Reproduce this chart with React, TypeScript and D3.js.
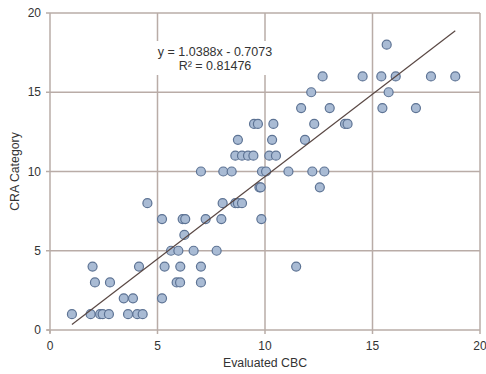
import React from "react";
import * as d3 from "d3";

const xs: number[] = [
  1.02, 1.89, 2.33, 2.45, 2.74, 3.63, 4.06, 4.31,
  3.43, 3.86, 5.21,
  2.09, 2.79, 5.89, 6.05, 7.02,
  1.98, 4.14, 5.33, 6.06, 7.02, 11.45,
  5.63, 5.97, 6.68, 7.75,
  6.25,
  5.21, 6.17, 6.29, 7.24, 7.97, 9.83,
  4.53, 8.03, 8.62, 8.74, 8.93,
  9.74, 9.8, 12.55,
  7.02, 8.06, 8.45, 9.86, 10.05, 11.09, 12.2, 12.76,
  8.62, 8.93, 9.21, 9.46, 10.2, 10.51,
  8.74, 10.33, 11.86,
  9.49, 9.67, 10.39, 12.29, 13.72, 13.84,
  11.68, 13.01, 15.46, 17.02,
  12.15, 15.75,
  12.68, 14.54, 15.41, 16.08, 17.72, 18.85,
  15.66,
];
const ys: number[] = [
  1, 1, 1, 1, 1, 1, 1, 1,
  2, 2, 2,
  3, 3, 3, 3, 3,
  4, 4, 4, 4, 4, 4,
  5, 5, 5, 5,
  6,
  7, 7, 7, 7, 7, 7,
  8, 8, 8, 8, 8,
  9, 9, 9,
  10, 10, 10, 10, 10, 10, 10, 10,
  11, 11, 11, 11, 11, 11,
  12, 12, 12,
  13, 13, 13, 13, 13, 13,
  14, 14, 14, 14,
  15, 15,
  16, 16, 16, 16, 16, 16,
  18,
];
const ticks: number[] = [0, 5, 10, 15, 20];
const slope = 1.0388;
const intercept = -0.7073;
const eqLines: string[] = ["y = 1.0388x - 0.7073", "R\u00B2 = 0.81476"];

const GRID = "#b9aca7";
const TEXT = "#333333";
const FONT = "'Liberation Sans', Arial, Helvetica, sans-serif";

export default function App() {
  const x = d3.scaleLinear().domain([0, 20]).range([50, 480]);
  const y = d3.scaleLinear().domain([0, 20]).range([330, 13]);
  const xMin = d3.min(xs) as number;
  const xMax = d3.max(xs) as number;
  const trend = d3.line<number>()
    .x((d) => x(d))
    .y((d) => y(slope * d + intercept))([xMin, xMax]);

  return (
    <svg
      width={486}
      height={374}
      style={{ position: "absolute", left: 0, top: 0, background: "#fff" }}
      fontFamily={FONT}
    >
      <rect x={0} y={0} width={486} height={374} fill="#fff" />
      {ticks.filter((t) => t > 0).map((t) => (
        <line key={"gx" + t} x1={x(t)} x2={x(t)} y1={y(0)} y2={y(20)} stroke={GRID} strokeWidth={1.5} />
      ))}
      {ticks.filter((t) => t > 0).map((t) => (
        <line key={"gy" + t} x1={x(0)} x2={x(20)} y1={y(t)} y2={y(t)} stroke={GRID} strokeWidth={1.5} />
      ))}
      <line x1={x(0)} x2={x(0)} y1={y(0) + 3} y2={y(20)} stroke={GRID} strokeWidth={1.5} />
      <line x1={x(0) - 3} x2={x(20)} y1={y(0)} y2={y(0)} stroke={GRID} strokeWidth={1.5} />
      {ticks.map((t) => (
        <line key={"tx" + t} x1={x(t)} x2={x(t)} y1={y(0)} y2={y(0) + 4} stroke={GRID} strokeWidth={1.5} />
      ))}
      {ticks.map((t) => (
        <line key={"ty" + t} x1={x(0) - 4} x2={x(0)} y1={y(t)} y2={y(t)} stroke={GRID} strokeWidth={1.5} />
      ))}
      {ticks.map((t) => (
        <text key={"lx" + t} x={x(t)} y={y(0) + 20} textAnchor="middle" fontSize={12} fill={TEXT}>{t}</text>
      ))}
      {ticks.map((t) => (
        <text key={"ly" + t} x={x(0) - 9} y={y(t) + 4} textAnchor="end" fontSize={12} fill={TEXT}>{t}</text>
      ))}
      <rect x={152} y={41} width={126} height={34} fill="#fff" />
      {xs.map((v, i) => (
        <circle key={"p" + i} cx={x(v)} cy={y(ys[i])} r={4.5} fill="#a9bbd4" stroke="#5d7394" strokeWidth={1.2} />
      ))}
      <path d={trend || ""} fill="none" stroke="#5a4844" strokeWidth={1.2} />
      {eqLines.map((s, i) => (
        <text key={"eq" + i} x={215} y={56 + i * 14} textAnchor="middle" fontSize={12.5} fill={TEXT}>{s}</text>
      ))}
      <text x={265} y={367} textAnchor="middle" fontSize={12.3} fill={TEXT}>Evaluated CBC</text>
      <text transform="translate(19,171.5) rotate(-90)" textAnchor="middle" fontSize={12.3} fill={TEXT}>CRA Category</text>
    </svg>
  );
}
